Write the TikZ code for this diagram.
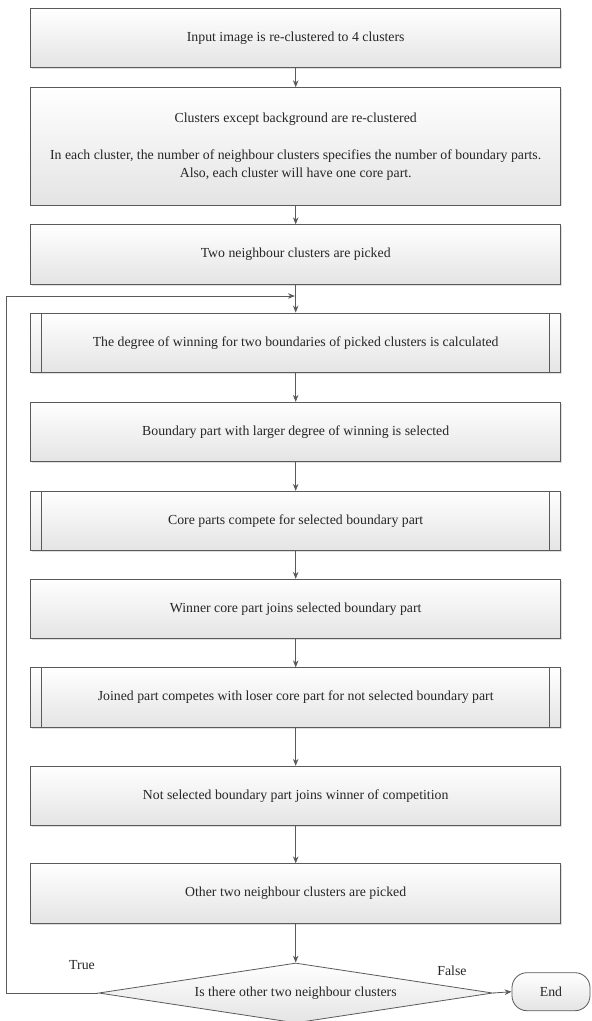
\documentclass[tikz,border=0pt]{standalone}
\usepackage{fontspec}
\setmainfont{Liberation Serif}
\usetikzlibrary{arrows.meta,shapes.geometric,shadows}
\definecolor{edgegray}{HTML}{5A5A5A}
\definecolor{boxbottom}{HTML}{E4E4E4}
\begin{document}
\begin{tikzpicture}[x=1pt,y=-1pt,
  every node/.style={font=\fontsize{13.8}{18}\selectfont, text=black!85},
  procbox/.style={draw=edgegray, line width=0.8pt, rectangle, minimum width=530pt,
    minimum height=59.5pt, inner sep=0pt, top color=white, bottom color=boxbottom,
    drop shadow={shadow xshift=1.5pt, shadow yshift=-1.5pt, opacity=0.25, fill=gray}},
  subproc/.style={procbox, path picture={
    \draw[edgegray, line width=0.8pt] ([xshift=11pt]path picture bounding box.north west) -- ([xshift=11pt]path picture bounding box.south west);
    \draw[edgegray, line width=0.8pt] ([xshift=-11pt]path picture bounding box.north east) -- ([xshift=-11pt]path picture bounding box.south east);}},
  decision/.style={draw=edgegray, line width=0.8pt, diamond, inner sep=0pt, aspect=6.5,
    minimum width=394pt, minimum height=60pt, top color=white, bottom color=boxbottom},
  terminal/.style={draw=edgegray, line width=0.8pt, rectangle, rounded corners=15pt,
    minimum width=78pt, minimum height=38pt, inner sep=0pt, top color=white, bottom color=boxbottom},
  conn/.style={draw=edgegray, line width=0.8pt, -{Stealth[length=7pt,width=5.5pt]}},
  plainline/.style={draw=edgegray, line width=0.8pt}
]
\useasboundingbox (0,0) rectangle (592,1021);
\fill[white] (0,0) rectangle (592,1021);

\node[procbox] (b1) at (295.7,38) {Input image is re-clustered to 4 clusters};
\node[procbox, minimum height=117.3pt, align=center] (b2) at (295.7,146.3)
  {Clusters except background are re-clustered\\[19pt]In each cluster, the number of neighbour clusters specifies the number of boundary parts.\\Also, each cluster will have one core part.};
\node[procbox] (b3) at (295.7,254.5) {Two neighbour clusters are picked};
\node[subproc] (b4) at (295.7,342.7) {The degree of winning for two boundaries of picked clusters is calculated};
\node[procbox] (b5) at (295.7,432) {Boundary part with larger degree of winning is selected};
\node[subproc] (b6) at (295.7,521) {Core parts compete for selected boundary part};
\node[procbox] (b7) at (295.7,609) {Winner core part joins selected boundary part};
\node[subproc] (b8) at (295.7,697.5) {Joined part competes with loser core part for not selected boundary part};
\node[procbox] (b9) at (295.7,796) {Not selected boundary part joins winner of competition};
\node[procbox] (b10) at (295.7,893.5) {Other two neighbour clusters are picked};
\node[decision] (dec) at (295.7,993) {Is there other two neighbour clusters};
\node[terminal] (end) at (551,991.7) {End};

\node (tt) at (82,965) {True};
\node (ff) at (452,971) {False};

\draw[conn] (b1) -- (b2);
\draw[conn] (b2) -- (b3);
\draw[conn] (b3) -- (b4);
\draw[conn] (b4) -- (b5);
\draw[conn] (b5) -- (b6);
\draw[conn] (b6) -- (b7);
\draw[conn] (b7) -- (b8);
\draw[conn] (b8) -- (b9);
\draw[conn] (b9) -- (b10);
\draw[conn] (b10) -- (dec);
\draw[conn] (dec.east) -- (end.west);

\coordinate (lx) at (6.7,296);
\coordinate (join) at (294.9,296);
\draw[conn] (dec.west) -| (lx) -- (join);
\end{tikzpicture}
\end{document}
